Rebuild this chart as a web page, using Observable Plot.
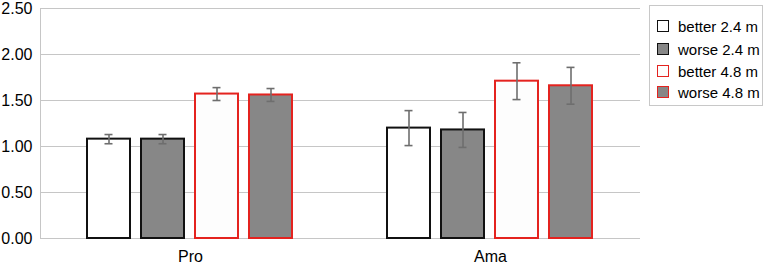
<!DOCTYPE html>
<html><head><meta charset="utf-8">
<script src="https://cdn.jsdelivr.net/npm/d3@7"></script>
<script src="https://cdn.jsdelivr.net/npm/@observablehq/plot@0.6"></script>
<style>
body{margin:0;background:#fff;font-family:"Liberation Sans",Arial,sans-serif;}
#wrap{position:relative;width:765px;height:271px;}
#legend{position:absolute;left:649px;top:5px;width:114px;height:101px;border:1px solid #c8c8c8;box-sizing:border-box;background:#fff;}
.row{position:absolute;left:7px;height:14px;display:flex;align-items:center;font-size:15px;color:#000;white-space:nowrap;}
.sw{width:12px;height:12px;box-sizing:border-box;border:1.5px solid #111;margin-right:9px;}
</style></head>
<body><div id="wrap"><div id="legend"></div></div>
<script>
const groups = ["Pro", "Ama"];
const series = ["better 2.4 m", "worse 2.4 m", "better 4.8 m", "worse 4.8 m"];
const proValues = [1.08, 1.08, 1.57, 1.56];
const proErrors = [0.05, 0.05, 0.07, 0.07];
const amaValues = [1.20, 1.18, 1.71, 1.66];
const amaErrors = [0.19, 0.19, 0.20, 0.20];
const yTicks = [0, 0.5, 1, 1.5, 2, 2.5];
const fillOf = {"better 2.4 m": "#ffffff", "worse 2.4 m": "#878787", "better 4.8 m": "#fdfdfd", "worse 4.8 m": "#878787"};
const strokeOf = {"better 2.4 m": "#111111", "worse 2.4 m": "#111111", "better 4.8 m": "#e4231f", "worse 4.8 m": "#e4231f"};

const data = [];
series.forEach((s, i) => {
  data.push({group: "Pro", series: s, value: proValues[i], err: proErrors[i]});
  data.push({group: "Ama", series: s, value: amaValues[i], err: amaErrors[i]});
});

const chart = Plot.plot({
  width: 765, height: 271,
  marginLeft: 40, marginRight: 125, marginTop: 8, marginBottom: 33,
  style: {fontFamily: '"Liberation Sans", Arial, sans-serif', fontSize: "16px", color: "#000", background: "#fff"},
  fx: {domain: groups, padding: 0, label: null},
  x: {domain: series, paddingInner: 0.2, paddingOuter: 0.83, axis: null},
  y: {domain: [0, 2.5], label: null},
  color: {type: "identity"},
  marks: [
    Plot.gridY(yTicks, {stroke: "#c6c6c6", strokeOpacity: 1}),
    Plot.frame({anchor: "left", facetAnchor: "left", stroke: "#c6c6c6"}),
    Plot.axisY({ticks: yTicks, tickFormat: d3.format(".2f"), tickSize: 0, tickPadding: 8, label: null, fontSize: 16}),
    Plot.axisFx({anchor: "bottom", tickSize: 0, tickPadding: 12, label: null, fontSize: 16}),
    Plot.barY(data, {fx: "group", x: "series", y: "value", fill: d => fillOf[d.series], stroke: d => strokeOf[d.series], strokeWidth: 2}),
    Plot.ruleX(data, {fx: "group", x: "series", y1: d => d.value - d.err, y2: d => d.value + d.err, stroke: "#6e6e6e", strokeWidth: 1.6}),
    Plot.tickY(data, {fx: "group", x: "series", y: d => d.value - d.err, inset: 17.5, stroke: "#6e6e6e", strokeWidth: 1.6}),
    Plot.tickY(data, {fx: "group", x: "series", y: d => d.value + d.err, inset: 17.5, stroke: "#6e6e6e", strokeWidth: 1.6})
  ]
});
document.getElementById("wrap").prepend(chart);

const legend = document.getElementById("legend");
const rowTops = [13, 36, 58, 79];
series.forEach((s, i) => {
  const row = document.createElement("div");
  row.className = "row";
  row.style.top = rowTops[i] + "px";
  const sw = document.createElement("div");
  sw.className = "sw";
  sw.style.background = fillOf[s];
  sw.style.borderColor = strokeOf[s];
  row.appendChild(sw);
  row.appendChild(document.createTextNode(s));
  legend.appendChild(row);
});
</script></body></html>
